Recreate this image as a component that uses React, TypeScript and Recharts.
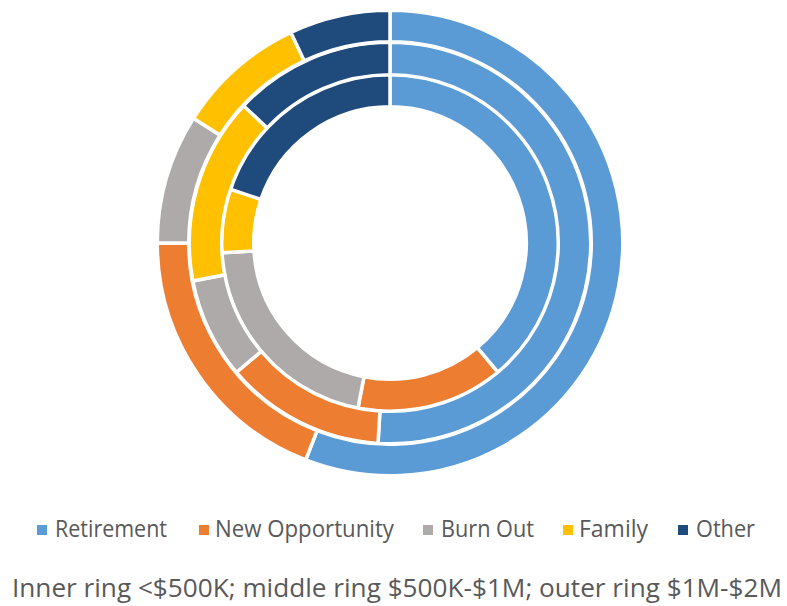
import React from "react";
import { PieChart, Pie, Cell, Legend } from "recharts";

const categories = ["Retirement", "New Opportunity", "Burn Out", "Family", "Other"];
const innerValues = [38.9, 14.1, 21.0, 6.1, 19.8];
const middleValues = [50.9, 12.9, 8.1, 15.0, 13.0];
const outerValues = [55.9, 19.1, 9.0, 9.0, 7.0];
const caption = "Inner ring <$500K; middle ring $500K-$1M; outer ring $1M-$2M";

const colors = ["#5B9BD5", "#ED7D31", "#ADAAA9", "#FFC000", "#1F4A7C"];

const toData = (vals: number[]) => categories.map((name, i) => ({ name, value: vals[i] }));
const innerData = toData(innerValues);
const middleData = toData(middleValues);
const outerData = toData(outerValues);

// legend layout (marker x, text start, text end)
const legendLayout = [
  [37, 55, 167],
  [199, 215, 394],
  [423, 441, 534],
  [563, 579, 648],
  [678, 696, 755],
];

const FONT = "'Open Sans', sans-serif";
const TEXT_COLOR = "#595959";

const LegendContent = () => (
  <svg width={787} height={101} style={{ display: "block" }}>
    {categories.map((name, i) => {
      const [mx, tx, te] = legendLayout[i];
      return (
        <g key={name}>
          <rect x={mx} y={20} width={10} height={10} fill={colors[i]} />
          <text
            x={tx}
            y={32}
            fontFamily={FONT}
            fontSize={23}
            fill={TEXT_COLOR}
            textLength={te - tx}
            lengthAdjust="spacingAndGlyphs"
          >
            {name}
          </text>
        </g>
      );
    })}
    <text
      x={12}
      y={92}
      fontFamily={FONT}
      fontSize={25}
      fill={TEXT_COLOR}
      textLength={770}
      lengthAdjust="spacingAndGlyphs"
    >
      {caption}
    </text>
  </svg>
);

const ringProps = {
  dataKey: "value",
  cx: 390,
  cy: 243,
  startAngle: 90,
  endAngle: -270,
  stroke: "#FFFFFF",
  strokeWidth: 3.5,
  isAnimationActive: false,
  legendType: "none" as const,
};

export default function App() {
  return (
    <div style={{ position: "absolute", left: 0, top: 0, width: 787, height: 606, background: "#fff" }}>
      <PieChart width={787} height={606} margin={{ top: 0, right: 0, bottom: 0, left: 0 }}>
        <Pie data={innerData} innerRadius={136.25} outerRadius={168.75} {...ringProps}>
          {innerData.map((d, i) => (
            <Cell key={d.name} fill={colors[i]} />
          ))}
        </Pie>
        <Pie data={middleData} innerRadius={168.25} outerRadius={200.75} {...ringProps}>
          {middleData.map((d, i) => (
            <Cell key={d.name} fill={colors[i]} />
          ))}
        </Pie>
        <Pie data={outerData} innerRadius={201.25} outerRadius={232.75} {...ringProps}>
          {outerData.map((d, i) => (
            <Cell key={d.name} fill={colors[i]} />
          ))}
        </Pie>
        <Legend
          content={<LegendContent />}
          wrapperStyle={{ position: "absolute", left: 0, top: 505, width: 787, height: 101 }}
        />
      </PieChart>
    </div>
  );
}
